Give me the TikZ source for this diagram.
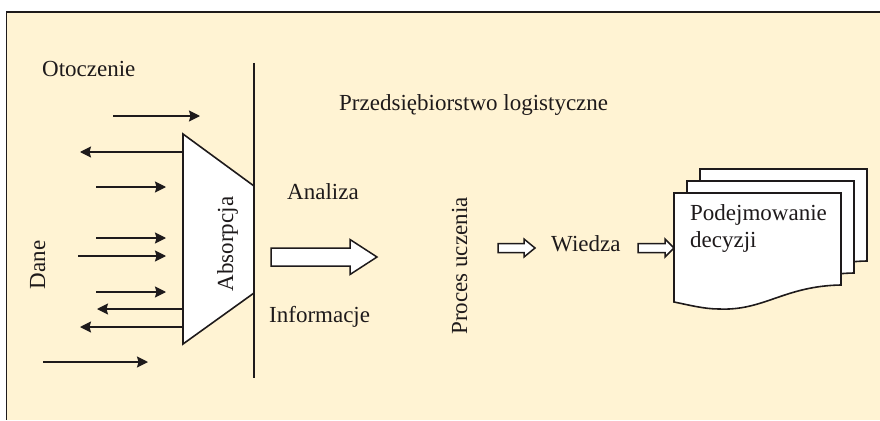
\documentclass[tikz,border=0pt]{standalone}
\usepackage{fontspec}
\setmainfont{Liberation Serif}
\usetikzlibrary{arrows.meta}
\definecolor{cream}{RGB}{255,243,211}
\definecolor{ink}{RGB}{30,26,27}

% block arrow: #1 start x, #2 tip x, #3 axis y, #4 half shaft, #5 half head, #6 head length
\newcommand{\flowblock}[6]{%
  \draw[blockarrow] (#1,{#3-#4}) -- ({#2-#6},{#3-#4}) -- ({#2-#6},{#3-#5}) -- (#2,#3)
    -- ({#2-#6},{#3+#5}) -- ({#2-#6},{#3+#4}) -- (#1,{#3+#4}) -- cycle;}

% sheet with a wavy lower edge, origin at its top-left corner
\newcommand{\docsheet}{%
  \draw[shapeline] (0,0) -- (167,0) -- (167,92)
    .. controls (110,93) and (90,118) .. (45,116)
    .. controls (30,116) and (15,112) .. (0,109) -- cycle;}

\begin{document}
\begin{tikzpicture}[x=1pt,y=-1pt,
  lbl/.style={font=\fontsize{23}{27}\selectfont, text=ink, inner sep=0pt},
  flow/.style={draw=ink, line width=1.3pt, -{Stealth[length=11pt,width=11pt,inset=1.5pt]}},
  shapeline/.style={draw=ink, line width=1.6pt, fill=white, line join=miter},
  blockarrow/.style={draw=ink, line width=1.5pt, fill=white, line join=miter}]

\useasboundingbox (0,0) rectangle (880,420);

% panel
\fill[cream] (6.5,12) rectangle (880,420);
\draw[ink, line width=1.5pt] (880,12) -- (6.5,12) -- (6.5,420);

% labels
\node[lbl, anchor=base west] (env)  at (42,76)   {Otoczenie};
\node[lbl, anchor=base west] (firm) at (339,110) {Przedsiębiorstwo logistyczne};
\node[lbl, anchor=base west] (anal) at (287,199) {Analiza};
\node[lbl, anchor=base west] (info) at (269,322) {Informacje};
\node[lbl, anchor=base west] (know) at (551,251) {Wiedza};
\node[lbl, anchor=base, rotate=90] (data)  at (45,265)  {Dane};
\node[lbl, anchor=base, rotate=90] (learn) at (467,266) {Proces uczenia};

% absorption funnel against the boundary
\draw[shapeline] (183,134) -- (254,186) -- (254,293) -- (183,344) -- cycle;
\node[lbl, anchor=base, rotate=90] (abs) at (233,244) {Absorpcja};

% boundary between environment and company
\coordinate (btop) at (254,63);
\coordinate (bbot) at (254,378);
\draw[ink, line width=1.8pt] (btop) -- (bbot);

% incoming and outgoing data streams
\coordinate (i1s) at (113,116); \coordinate (i1e) at (200,116);
\coordinate (o1s) at (183,152); \coordinate (o1e) at (80,152);
\coordinate (i2s) at (96,187);  \coordinate (i2e) at (166,187);
\coordinate (i3s) at (96,238);  \coordinate (i3e) at (166,238);
\coordinate (i4s) at (78,256);  \coordinate (i4e) at (166,256);
\coordinate (i5s) at (96,292);  \coordinate (i5e) at (166,292);
\coordinate (o2s) at (183,309); \coordinate (o2e) at (97,309);
\coordinate (o3s) at (183,327); \coordinate (o3e) at (80,327);
\coordinate (i6s) at (43,362);  \coordinate (i6e) at (148,362);
\foreach \a in {i1,i2,i3,i4,i5,i6,o1,o2,o3}
  \draw[flow] (\a s) -- (\a e);

% block arrows
\flowblock{271}{377}{257}{9}{17.5}{27}
\flowblock{498}{535}{248}{4.5}{9}{11}
\flowblock{638}{674}{248}{4.5}{9}{9}

% stack of decision sheets
\begin{scope}[shift={(700,169)}]\docsheet\end{scope}
\begin{scope}[shift={(687,181)}]\docsheet\end{scope}
\begin{scope}[shift={(674,193)}]\docsheet\end{scope}
\node[lbl, anchor=north west, align=left] (dec) at (690,204) {Podejmowanie\\decyzji};

\end{tikzpicture}
\end{document}
